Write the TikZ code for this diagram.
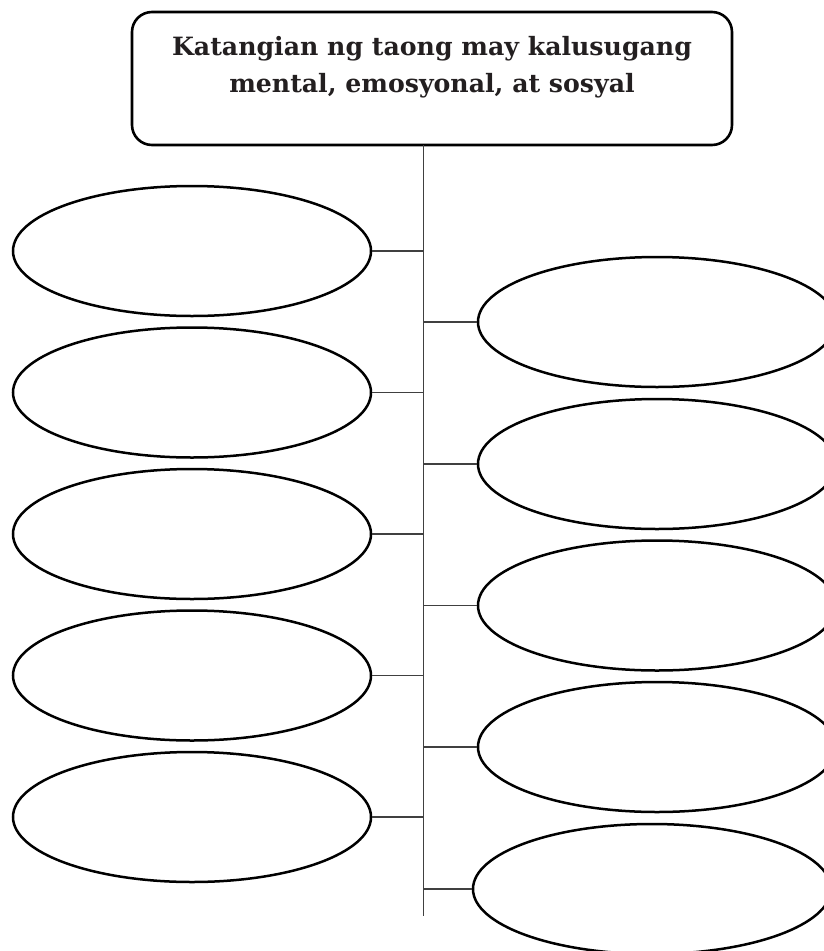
\documentclass[tikz,border=0pt]{standalone}
\usepackage{fontspec}
\setmainfont{DejaVu Serif}
\usetikzlibrary{shapes.geometric}
\definecolor{inkc}{HTML}{231F20}
\tikzset{
  oval/.style={ellipse, draw=black, line width=2.5pt, minimum width=358pt, minimum height=130pt, inner sep=0pt},
  titlebox/.style={rectangle, rounded corners=20pt, draw=black, line width=2.6pt, minimum width=600pt, minimum height=133pt, inner sep=0pt},
  titletext/.style={font=\fontsize{25.2}{37}\selectfont\bfseries, text=inkc, align=center, inner sep=0pt},
  conn/.style={draw=black!75, line width=1.4pt},
}
\begin{document}
\begin{tikzpicture}[x=1pt,y=-1pt]
\clip (0,0) rectangle (824,951);
\node[titlebox] (title) at (432,78.5) {};
\node[titletext, anchor=base] (ttl) at (432,92) {Katangian ng taong may kalusugang\\mental, emosyonal, at sosyal};
\coordinate (top) at (423.5,145);
\coordinate (bot) at (423.5,916);
\draw[conn] (top) -- (bot);
% left ovals
\foreach \i/\y in {1/251,2/392.5,3/534,4/675.5,5/817}{
  \node[oval] (L\i) at (192,\y) {};
  \coordinate (jL\i) at (423.5,\y);
  \draw[conn] (L\i.east) -- (jL\i);
}
% right ovals
\foreach \i/\y/\x in {1/322/657,2/464/657,3/605.5/657,4/747/657,5/889/652}{
  \node[oval] (R\i) at (\x,\y) {};
  \coordinate (jR\i) at (423.5,\y);
  \draw[conn] (jR\i) -- (R\i.west);
}
\end{tikzpicture}
\end{document}
